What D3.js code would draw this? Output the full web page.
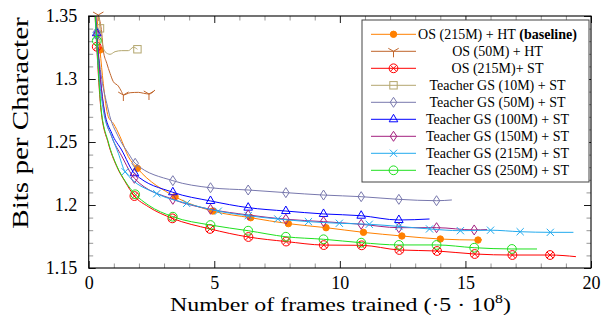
<!DOCTYPE html>
<html><head><meta charset="utf-8">
<script src="https://cdn.jsdelivr.net/npm/d3@7"></script>
<style>
body{margin:0;background:#fff}
</style>
</head><body>
<svg id="c" width="605" height="317"></svg>
<script>
// ---------- data ----------
const seriesLabels = ["OS (215M) + HT", "OS (50M) + HT", "OS (215M)+ ST", "Teacher GS (10M) + ST",
  "Teacher GS (50M) + ST", "Teacher GS (100M) + ST", "Teacher GS (150M) + ST",
  "Teacher GS (215M) + ST", "Teacher GS (250M) + ST"];

const os215htX = [0.2, 0.32, 0.45, 0.58, 0.78, 0.98, 1.25, 1.58, 1.94, 3.44, 4.94, 6.45, 7.95, 9.45, 10.94, 12.47, 14.0, 15.5, 15.66];
const os215htY = [1.38, 1.3508, 1.323, 1.2966, 1.2701, 1.2648, 1.2542, 1.2383, 1.2291, 1.2066, 1.1952, 1.1899, 1.1852, 1.1820, 1.1783, 1.1754, 1.1730, 1.1722, 1.1724];
const os215htMarks = [0.45, 1.94, 3.44, 4.94, 6.45, 7.95, 9.45, 10.94, 12.47, 14.0, 15.5];

const os50htX = [0.38, 0.52, 0.58, 0.72, 0.85, 0.98, 1.18, 1.31, 1.38, 1.65, 1.98, 2.18, 2.40, 2.64];
const os50htY = [1.3508, 1.3363, 1.323, 1.3125, 1.3045, 1.2979, 1.2944, 1.2899, 1.2873, 1.2891, 1.2894, 1.2887, 1.2881, 1.2913];
const os50htMarks = [0.38, 1.38, 2.40];

const os215stX = [0.2, 0.32, 0.49, 0.78, 1.12, 1.45, 1.82, 2.37, 3.33, 4.83, 6.36, 7.86, 9.36, 10.87, 12.37, 13.87, 15.37, 16.87, 18.37, 19.4];
const os215stY = [1.372, 1.3256, 1.2754, 1.249, 1.2304, 1.2185, 1.2071, 1.1987, 1.1894, 1.1810, 1.1746, 1.1710, 1.1682, 1.1680, 1.1643, 1.1635, 1.1611, 1.1603, 1.1603, 1.1590];
const os215stMarks = [0.32, 1.82, 3.33, 4.83, 6.36, 7.86, 9.36, 10.87, 12.37, 13.87, 15.37, 16.87, 18.37];

const gs10X = [0.35, 0.45, 0.65, 0.85, 1.05, 1.31, 1.58, 1.78, 1.94];
const gs10Y = [1.362, 1.3402, 1.3217, 1.3196, 1.3217, 1.3225, 1.3225, 1.3252, 1.3236];
const gs10Marks = [0.45, 1.94];

const gs50X = [0.2, 0.32, 0.78, 1.18, 1.58, 1.85, 3.35, 4.85, 6.35, 7.85, 9.35, 10.85, 12.35, 13.85, 14.46];
const gs50Y = [1.378, 1.3375, 1.2754, 1.2542, 1.2410, 1.2331, 1.2193, 1.2137, 1.2119, 1.2098, 1.2079, 1.2066, 1.2045, 1.2034, 1.2040];
const gs50Marks = [0.32, 1.85, 3.35, 4.85, 6.35, 7.85, 9.35, 10.85, 12.35, 13.85];

const gs100X = [0.2, 0.32, 0.62, 0.92, 1.31, 1.82, 3.35, 4.85, 6.35, 7.85, 9.35, 10.85, 12.35, 13.57];
const gs100Y = [1.375, 1.3363, 1.2754, 1.2569, 1.2437, 1.2252, 1.2101, 1.2032, 1.1979, 1.1952, 1.1929, 1.1915, 1.1881, 1.1889];
const gs100Marks = [0.32, 1.82, 3.35, 4.85, 6.35, 7.85, 9.35, 10.85, 12.35];

const gs150X = [0.2, 0.32, 0.62, 0.92, 1.31, 1.82, 3.35, 4.85, 6.35, 7.85, 9.35, 10.85, 12.35, 13.85, 15.35, 15.86];
const gs150Y = [1.375, 1.3350, 1.2740, 1.2540, 1.2390, 1.2212, 1.2045, 1.1966, 1.1921, 1.1887, 1.1868, 1.1847, 1.1820, 1.1820, 1.1802, 1.1805];
const gs150Marks = [0.32, 1.82, 3.35, 4.85, 6.35, 7.85, 9.35, 10.85, 12.35, 13.85, 15.35];

const gs215X = [0.2, 0.3, 0.58, 0.92, 1.18, 1.45, 2.71, 3.9, 5.16, 6.35, 7.53, 8.75, 9.98, 11.17, 12.35, 13.57, 14.8, 16.0, 17.18, 18.38, 19.3];
const gs215Y = [1.375, 1.3340, 1.2754, 1.2542, 1.2410, 1.2264, 1.2090, 1.2013, 1.1951, 1.1915, 1.1889, 1.1868, 1.1855, 1.1847, 1.1830, 1.1810, 1.1796, 1.1800, 1.1788, 1.1783, 1.1783];
const gs215Marks = [0.3, 1.45, 2.71, 3.9, 5.16, 6.35, 7.53, 8.75, 9.98, 11.17, 12.35, 13.57, 14.8, 16.0, 17.18, 18.38];

const gs250X = [0.2, 0.32, 0.49, 0.78, 1.12, 1.45, 1.85, 2.37, 3.35, 4.85, 6.35, 7.85, 9.35, 10.85, 12.35, 13.85, 15.35, 16.85, 17.85];
const gs250Y = [1.372, 1.3304, 1.2770, 1.2500, 1.2310, 1.2190, 1.2085, 1.2000, 1.1907, 1.1841, 1.1796, 1.1748, 1.1728, 1.1701, 1.1683, 1.1683, 1.1661, 1.1651, 1.1651];
const gs250Marks = [0.32, 1.85, 3.35, 4.85, 6.35, 7.85, 9.35, 10.85, 12.35, 13.85, 15.35, 16.85];

const xTicks = [0, 5, 10, 15, 20];
const xTickLabels = ["0", "5", "10", "15", "20"];
const yTicks = [1.15, 1.2, 1.25, 1.3, 1.35];
const yTickLabels = ["1.15", "1.2", "1.25", "1.3", "1.35"];

// ---------- setup ----------
const series = [
  {label: seriesLabels[0], xs: os215htX, ys: os215htY, marks: os215htMarks, color: "#ff8000", marker: "dot", bold: "(baseline)"},
  {label: seriesLabels[1], xs: os50htX, ys: os50htY, marks: os50htMarks, color: "#c0652b", marker: "tri"},
  {label: seriesLabels[2], xs: os215stX, ys: os215stY, marks: os215stMarks, color: "#ff0000", marker: "otimes"},
  {label: seriesLabels[3], xs: gs10X, ys: gs10Y, marks: gs10Marks, color: "#b3a66e", marker: "square"},
  {label: seriesLabels[4], xs: gs50X, ys: gs50Y, marks: gs50Marks, color: "#7878ad", marker: "diamond"},
  {label: seriesLabels[5], xs: gs100X, ys: gs100Y, marks: gs100Marks, color: "#0000ff", marker: "triangle"},
  {label: seriesLabels[6], xs: gs150X, ys: gs150Y, marks: gs150Marks, color: "#a3207f", marker: "diamond"},
  {label: seriesLabels[7], xs: gs215X, ys: gs215Y, marks: gs215Marks, color: "#22aaee", marker: "x"},
  {label: seriesLabels[8], xs: gs250X, ys: gs250Y, marks: gs250Marks, color: "#1fe01f", marker: "circle"}
];

const SERIF = "'Liberation Serif', 'Times New Roman', serif";
const L = 88.7, R = 591, T = 16, B = 268;
const x = d3.scaleLinear().domain([0, 20]).range([L, R]);
const y = d3.scaleLinear().domain([1.15, 1.35]).range([B, T]);
const svg = d3.select("#c");

svg.append("defs").append("clipPath").attr("id", "clip")
  .append("rect").attr("x", L).attr("y", T).attr("width", R - L).attr("height", B - T);

// ---------- axes ----------
const xMinor = d3.range(1, 20).filter(v => v % 5 !== 0);
const yMinor = d3.range(116, 135).filter(v => v % 5 !== 0).map(v => v / 100);

function styleAxis(g, color) {
  g.select(".domain").remove();
  g.selectAll(".tick line").attr("stroke", color).attr("stroke-width", 0.9);
  g.selectAll("text").style("font-family", SERIF).style("font-size", "18px").attr("fill", "#000");
}
// minor
svg.append("g").attr("transform", `translate(0,${B})`)
  .call(d3.axisBottom(x).tickValues(xMinor).tickSize(-4.5).tickFormat("")).call(g => styleAxis(g, "#8a8a8a"));
svg.append("g").attr("transform", `translate(0,${T})`)
  .call(d3.axisTop(x).tickValues(xMinor).tickSize(-4.5).tickFormat("")).call(g => styleAxis(g, "#8a8a8a"));
svg.append("g").attr("transform", `translate(${L},0)`)
  .call(d3.axisLeft(y).tickValues(yMinor).tickSize(-4.5).tickFormat("")).call(g => styleAxis(g, "#8a8a8a"));
svg.append("g").attr("transform", `translate(${R},0)`)
  .call(d3.axisRight(y).tickValues(yMinor).tickSize(-4.5).tickFormat("")).call(g => styleAxis(g, "#8a8a8a"));
// major
svg.append("g").attr("transform", `translate(0,${B})`)
  .call(d3.axisBottom(x).tickValues(xTicks).tickSizeInner(-7).tickSizeOuter(0).tickPadding(8.2)
    .tickFormat((d, i) => xTickLabels[i])).call(g => styleAxis(g, "#000"));
svg.append("g").attr("transform", `translate(0,${T})`)
  .call(d3.axisTop(x).tickValues(xTicks).tickSizeInner(-7).tickSizeOuter(0).tickFormat("")).call(g => styleAxis(g, "#000"));
svg.append("g").attr("transform", `translate(${L},0)`)
  .call(d3.axisLeft(y).tickValues(yTicks).tickSizeInner(-7).tickSizeOuter(0).tickPadding(11.5)
    .tickFormat((d, i) => yTickLabels[i])).call(g => styleAxis(g, "#000"));
svg.append("g").attr("transform", `translate(${R},0)`)
  .call(d3.axisRight(y).tickValues(yTicks).tickSizeInner(-7).tickSizeOuter(0).tickFormat("")).call(g => styleAxis(g, "#000"));

// ---------- markers ----------
function marker(g, type, color, cx, cy) {
  const m = g.append("g").attr("transform", `translate(${cx},${cy})`)
    .attr("stroke", color).attr("fill", "none").attr("stroke-width", 1);
  switch (type) {
    case "dot": m.append("circle").attr("r", 3.2).attr("fill", color); break;
    case "tri":
      m.append("path").attr("d", "M0,0L-5.2,-3M0,0L5.2,-3M0,0L0,6"); break;
    case "otimes":
      m.append("circle").attr("r", 4.4);
      m.append("path").attr("d", "M-3.1,-3.1L3.1,3.1M-3.1,3.1L3.1,-3.1"); break;
    case "square": m.append("rect").attr("x", -3.7).attr("y", -3.7).attr("width", 7.4).attr("height", 7.4); break;
    case "diamond": m.append("path").attr("d", "M0,-5L3.3,0L0,5L-3.3,0Z"); break;
    case "triangle": m.append("path").attr("d", "M0,-5L4.3,2.5L-4.3,2.5Z"); break;
    case "x": m.append("path").attr("d", "M-3.6,-3.6L3.6,3.6M-3.6,3.6L3.6,-3.6"); break;
    case "circle": m.append("circle").attr("r", 4.4); break;
  }
}

// ---------- series ----------
const line = d3.line().x(d => x(d[0])).y(d => y(d[1])).curve(d3.curveMonotoneX);
series.forEach(s => {
  const pts = s.xs.map((v, i) => [v, s.ys[i]]);
  const g = svg.append("g");
  g.append("path").attr("d", line(pts)).attr("fill", "none").attr("stroke", s.color)
    .attr("stroke-width", 1).attr("clip-path", "url(#clip)");
  s.marks.forEach(mx => {
    const i = d3.minIndex(s.xs, v => Math.abs(v - mx));
    marker(g, s.marker, s.color, x(s.xs[i]), y(s.ys[i]));
  });
});

// ---------- frame ----------
svg.append("rect").attr("x", L).attr("y", T).attr("width", R - L).attr("height", B - T)
  .attr("fill", "none").attr("stroke", "#000").attr("stroke-width", 1.1);

// ---------- legend ----------
const lg = svg.append("g");
lg.append("rect").attr("x", 362).attr("y", 20).attr("width", 227).attr("height", 162)
  .attr("fill", "#fff").attr("stroke", "#444").attr("stroke-width", 1);
series.forEach((s, i) => {
  const cy = 34.3 + i * 17;
  lg.append("line").attr("x1", 371).attr("x2", 416).attr("y1", cy).attr("y2", cy)
    .attr("stroke", s.color).attr("stroke-width", 1);
  marker(lg, s.marker, s.color, 393.5, cy);
  const t = lg.append("text").attr("x", 497.5).attr("y", cy + 5).attr("text-anchor", "middle")
    .style("font-family", SERIF).style("font-size", "14px").attr("fill", "#000");
  t.append("tspan").text(s.label);
  if (s.bold) t.append("tspan").style("font-weight", "bold").text(" " + s.bold);
});

// ---------- axis titles ----------
function fitText(sel, width) {
  const w = sel.node().getBBox().width;
  return width / w;
}
const yl = svg.append("text").style("font-family", SERIF).style("font-size", "23px")
  .attr("text-anchor", "middle").text("Bits per Character");
const syl = fitText(yl, 212);
yl.attr("transform", `translate(27.5,123) rotate(-90) scale(${syl},1)`);

const xl = svg.append("text").style("font-family", SERIF).style("font-size", "19px").attr("text-anchor", "middle");
xl.append("tspan").text("Number of frames trained (\u00B75 \u00B7 10");
xl.append("tspan").style("font-size", "12.5px").attr("dy", -7.5).text("8");
xl.append("tspan").attr("dy", 7.5).text(")");
const sxl = fitText(xl, 341);
xl.attr("transform", `translate(340.5,310.5) scale(${sxl},1)`);
</script>
</body></html>
